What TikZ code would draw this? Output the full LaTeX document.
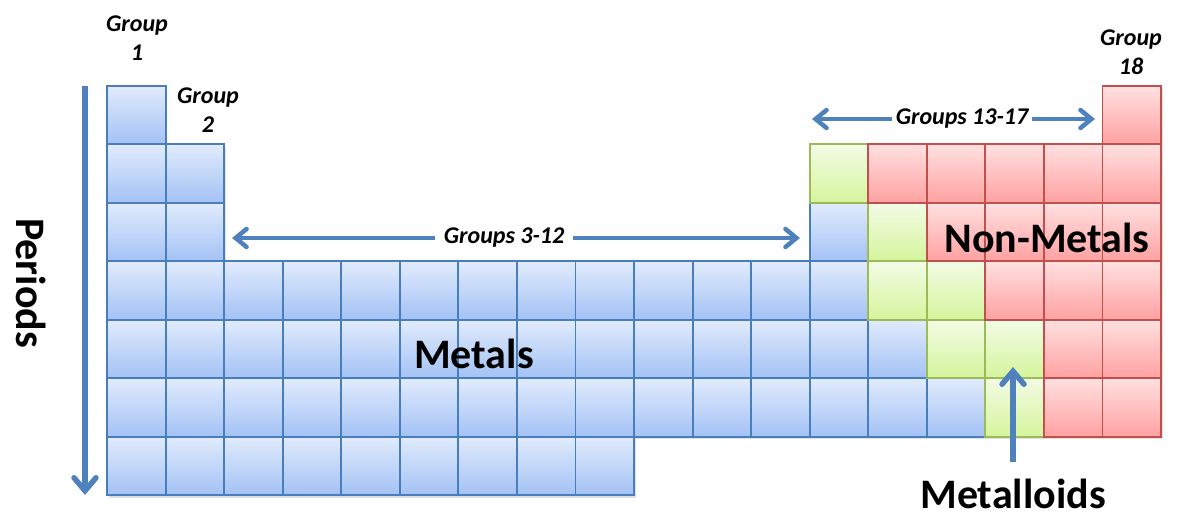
\documentclass[tikz,border=0pt]{standalone}
\usepackage{fontspec}
\setmainfont{Carlito}
\usetikzlibrary{arrows.meta}
\definecolor{bluetop}{HTML}{E1EBFC}
\definecolor{bluebot}{HTML}{A3C2F5}
\definecolor{blueline}{HTML}{4A7EBB}
\definecolor{greentop}{HTML}{F3FBE6}
\definecolor{greenbot}{HTML}{D5F59C}
\definecolor{greenline}{HTML}{9BBB59}
\definecolor{redtop}{HTML}{FFE0E0}
\definecolor{redbot}{HTML}{FFA1A1}
\definecolor{redline}{HTML}{C0504D}
\definecolor{arrowblue}{HTML}{4F81BD}
\tikzset{
  cellbase/.style={rectangle, inner sep=0pt, minimum width=58.56pt, minimum height=58.43pt, line width=1.9pt},
  bluecell/.style={cellbase, draw=blueline, top color=bluetop, bottom color=bluebot},
  greencell/.style={cellbase, draw=greenline, top color=greentop, bottom color=greenbot},
  redcell/.style={cellbase, draw=redline, top color=redtop, bottom color=redbot},
  bigarrow/.style={draw=arrowblue, line width=5.5pt, -{Straight Barb[length=13pt,width=22pt,line cap=round]}},
  dblarrow/.style={draw=arrowblue, line width=4.5pt, {Straight Barb[length=11pt,width=18pt,line cap=round]}-{Straight Barb[length=11pt,width=18pt,line cap=round]}},
  grouplabel/.style={font=\fontsize{24}{29}\selectfont\bfseries\itshape, align=center, inner sep=0pt},
  biglabel/.style={font=\fontsize{42}{46}\selectfont\bfseries, inner sep=0pt},
}
\newcommand\mkcell[3]{\node[#3] (c-#1-#2) at ({107+(#1-0.5)*58.56},{86+(#2-0.5)*58.43}) {};}
\newcommand\mkshadow[2]{\fill[black, opacity=0.12] ({107+(#1-1)*58.56+1.5},{86+(#2-1)*58.43+2.5}) rectangle ++(58.56,58.43);}
\begin{document}
\begin{tikzpicture}[x=1pt, y=-1pt]
\useasboundingbox (0,0) rectangle (1182,529);
% shadows
\foreach \c/\r in {1/1,18/1,1/2,2/2,1/3,2/3} {\mkshadow{\c}{\r}}
\foreach \r in {2,...,6} {\foreach \c in {13,...,18} {\mkshadow{\c}{\r}}}
\foreach \r/\n in {4/12,5/12,6/12,7/9} {\foreach \c in {1,...,\n} {\mkshadow{\c}{\r}}}
% blue cells
\foreach \c/\r in {1/1,1/2,2/2,1/3,2/3,13/3} {\mkcell{\c}{\r}{bluecell}}
\foreach \r/\n in {4/13,5/14,6/15,7/9} {\foreach \c in {1,...,\n} {\mkcell{\c}{\r}{bluecell}}}
% green cells
\foreach \c/\r in {13/2,14/3,14/4,15/4,15/5,16/5,16/6} {\mkcell{\c}{\r}{greencell}}
% red cells
\foreach \c/\r in {18/1,14/2,15/2,16/2,17/2,18/2,15/3,16/3,17/3,18/3,16/4,17/4,18/4,17/5,18/5,17/6,18/6} {\mkcell{\c}{\r}{redcell}}
% labels
\node[grouplabel] (g1) at (137,38) {Group\\1};
\node[grouplabel] (g2) at (208,110) {Group\\2};
\node[grouplabel] (g18) at (1131,52) {Group\\18};
\node[biglabel, rotate=-90] (periods) at (31,283) {Periods};
\node[biglabel] (metals) at (474,354) {Metals};
\node[biglabel] (nonmetals) at (1047,238) {Non-Metals};
\node[biglabel] (metalloids) at (1013,494) {Metalloids};
% arrows
\coordinate (pa) at (85,86);
\coordinate (pb) at (85,495);
\draw[bigarrow] (pa) -- (pb);
\coordinate (ga) at (232,238);
\coordinate (gb) at (800,238);
\draw[dblarrow] (ga) -- (gb) node[pos=0.479, fill=white, grouplabel, inner xsep=9pt, inner ysep=2pt] (g312) {Groups 3-12};
\coordinate (ha) at (812,119);
\coordinate (hb) at (1095,119);
\draw[dblarrow] (ha) -- (hb);
\node[grouplabel, fill=white, inner xsep=4pt, inner ysep=2pt] (g1317) at (962,119) {Groups 13-17};
\coordinate (ma) at (1013,462);
\coordinate (mb) at (1013,367);
\draw[bigarrow] (ma) -- (mb);
\end{tikzpicture}
\end{document}
